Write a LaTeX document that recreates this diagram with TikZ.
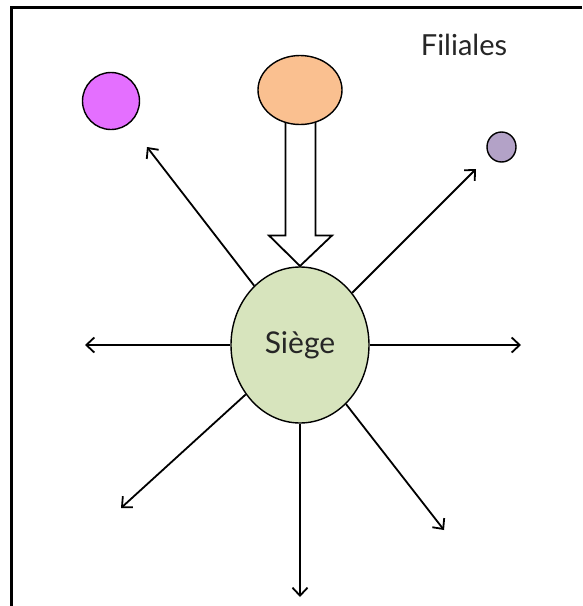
\documentclass[tikz,border=0pt]{standalone}
\usepackage{fontspec}
\setmainfont{Lato}
\usetikzlibrary{arrows.meta,shapes.geometric}
\definecolor{siegegreen}{HTML}{D7E4BD}
\definecolor{orangefil}{HTML}{FAC090}
\definecolor{magentafil}{HTML}{E46FFF}
\definecolor{purplefil}{HTML}{B3A2C7}
\begin{document}
\begin{tikzpicture}[x=1pt,y=-1pt,
  bubble/.style={ellipse,draw=black,line width=1.4pt,inner sep=0pt},
  ray/.style={line width=1.8pt,-{Straight Barb[length=8pt,width=15pt]}},
  label/.style={font=\fontsize{30}{34}\selectfont,text=black!85}]
\useasboundingbox (0,0) rectangle (582,606);
\fill[white] (0,0) rectangle (582,606);
% frame
\draw[line width=3pt] (582,7.5) -- (11.5,7.5) -- (11.5,606);
% hollow arrow
\draw[line width=1.8pt,fill=white] (285.5,110) -- (285.5,235.5) -- (269,235.5) -- (300,266) -- (332,235.5) -- (315.5,235.5) -- (315.5,110);
% nodes
\node[bubble,fill=orangefil,minimum width=84pt,minimum height=69pt] (orange) at (300,90) {};
\node[bubble,fill=magentafil,minimum width=57pt,minimum height=57pt] (magenta) at (111,101) {};
\node[bubble,fill=purplefil,minimum width=29pt,minimum height=30pt] (purple) at (501.5,147) {};
\node[bubble,fill=siegegreen,minimum width=138pt,minimum height=156pt,label] (siege) at (300,345) {Siège};
\node[label,font=\fontsize{29}{33}\selectfont] (filiales) at (464,45) {Filiales};
% tips
\coordinate (tUL) at (147,147);
\coordinate (tUR) at (476,169);
\coordinate (tL) at (85,345);
\coordinate (tR) at (521,345);
\coordinate (tDL) at (121,508);
\coordinate (tD) at (300,597);
\coordinate (tDR) at (444,530);
\foreach \t in {tUL,tUR,tL,tR,tDL,tD,tDR}
  \draw[ray] (siege) -- (\t);
\end{tikzpicture}
\end{document}
